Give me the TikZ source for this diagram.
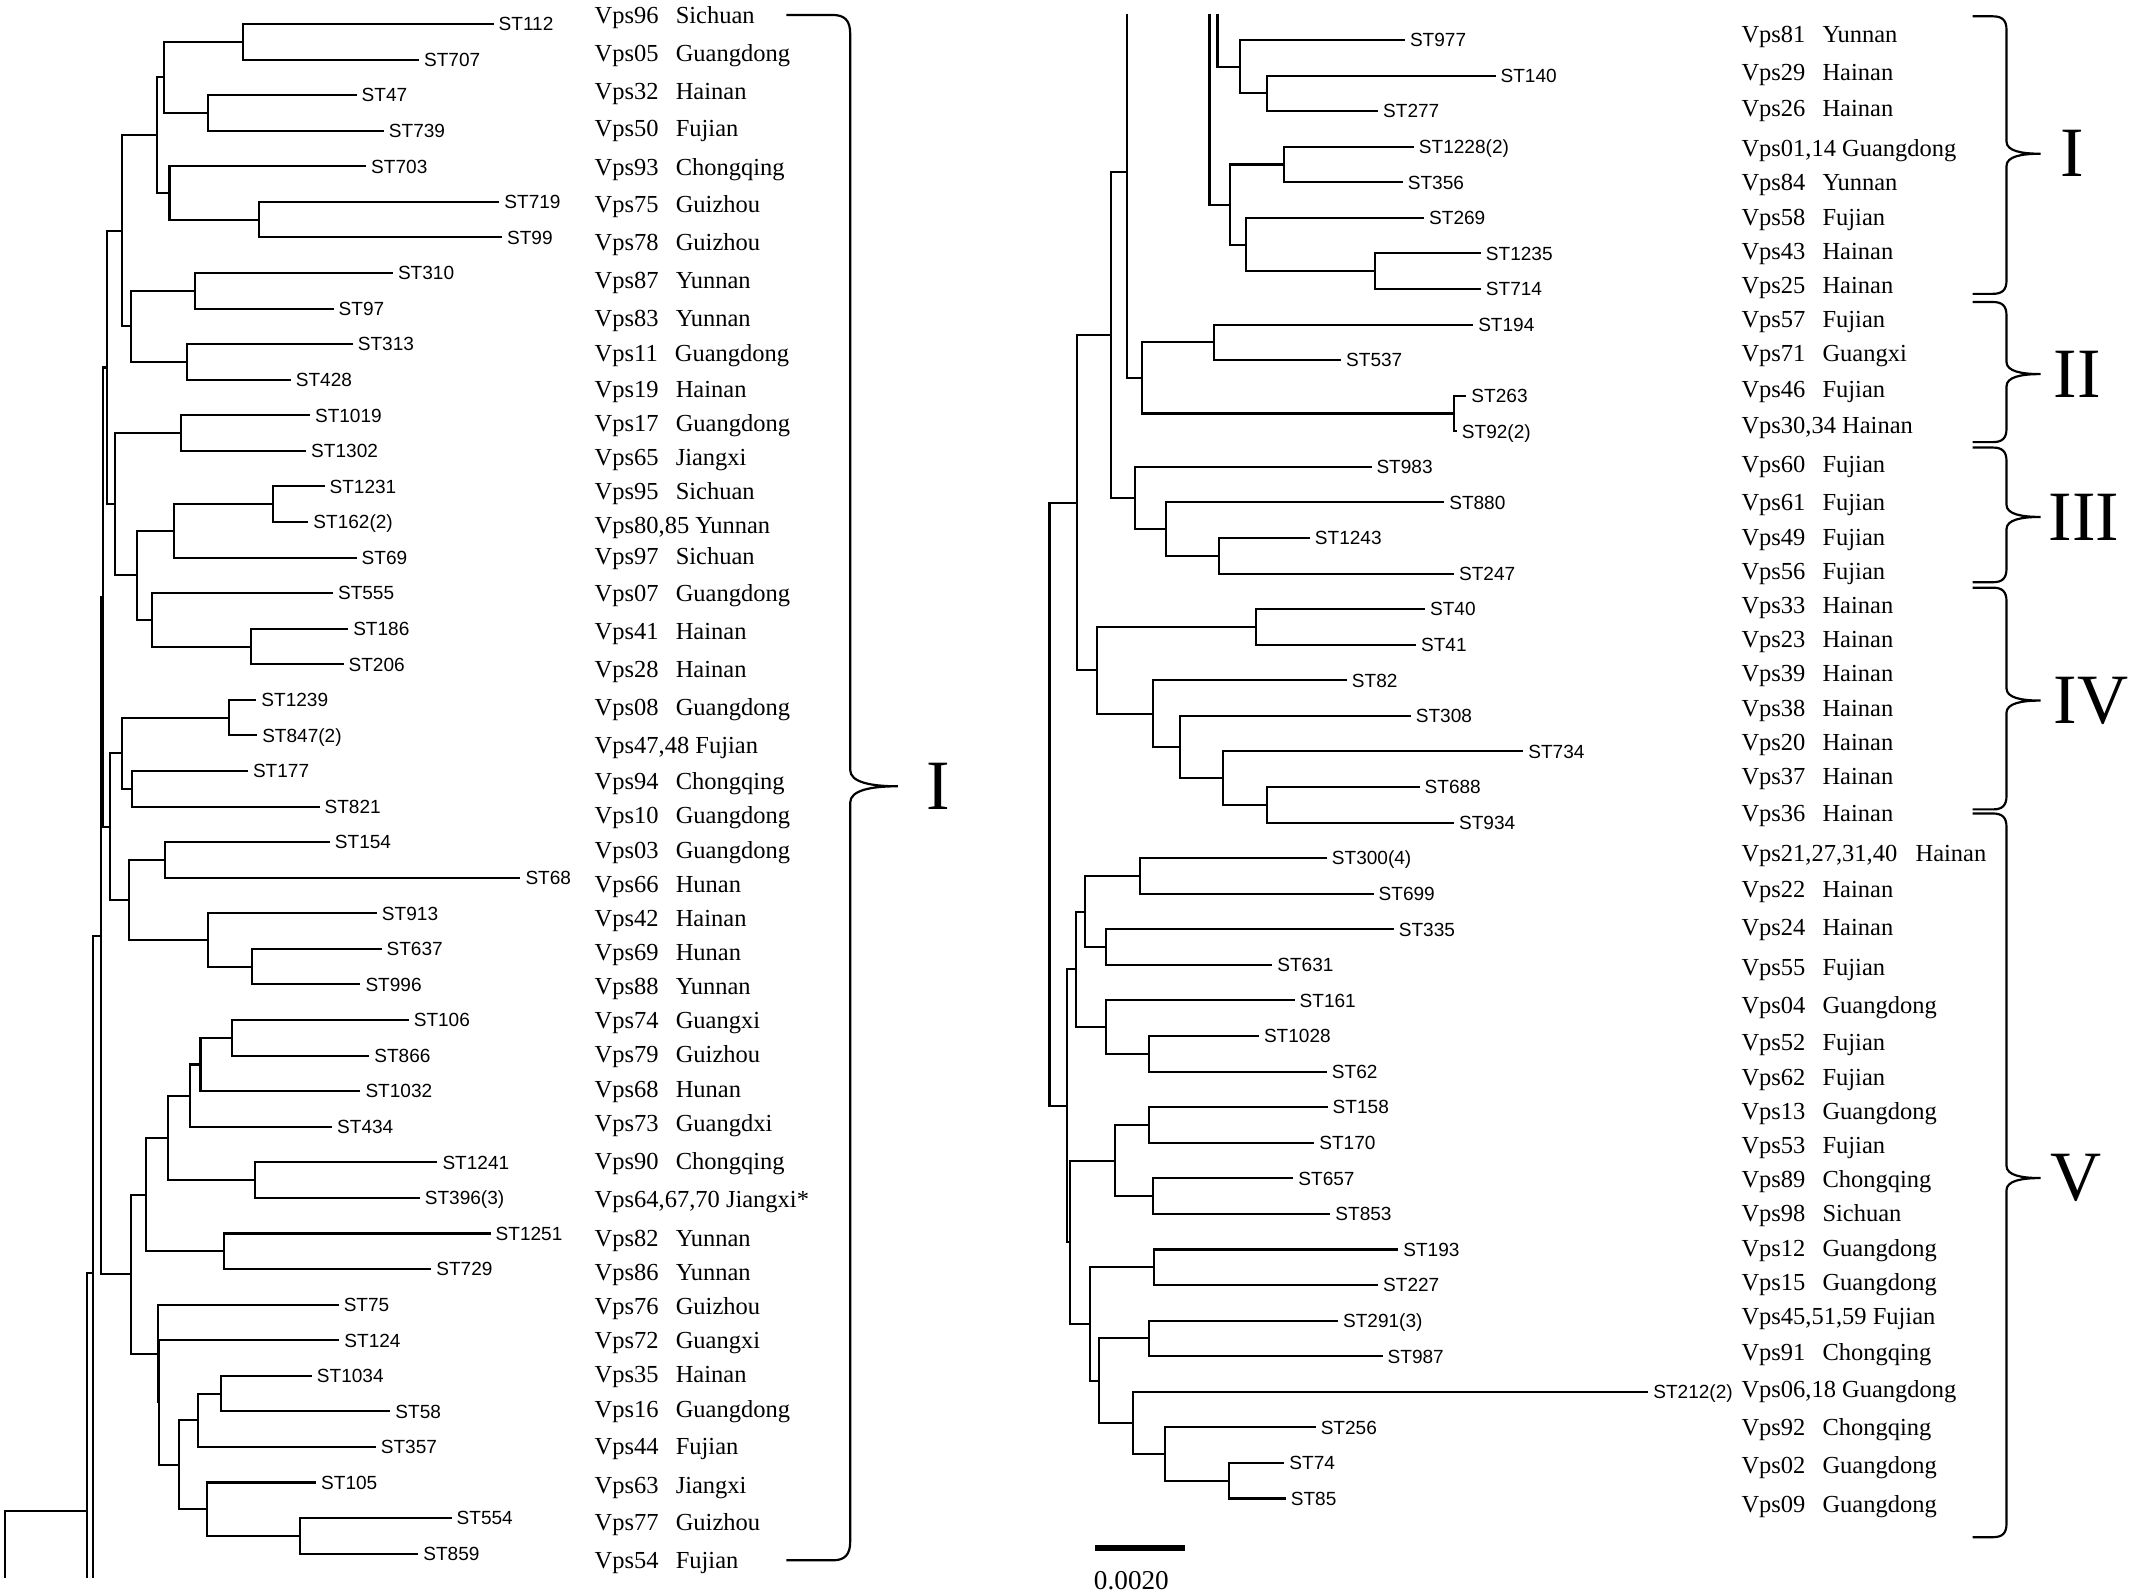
\documentclass[tikz,border=0pt]{standalone}
\usepackage{fontspec}
\setmainfont{Liberation Serif}
\newfontfamily\stfam{Liberation Sans}
\newcommand\g{\hspace{0.7em}}
\newcommand\LN[3]{\coordinate (#1) at (#2,{17.64+26.15*(#3)});}
\newcommand\RN[3]{\coordinate (#1) at (#2,{29.4+26.15*(#3)});}
\newcommand\LL[5]{\coordinate (#1) at (#2,{17.64+26.15*(#3)}); \draw[br] (#4) |- (#1); \node[stl] (t#1) at (#1) {#5};}
\newcommand\RL[5]{\coordinate (#1) at (#2,{29.4+26.15*(#3)}); \draw[br] (#4) |- (#1); \node[stl] (t#1) at (#1) {#5};}
\newcommand\VL[4]{\node[vps] (#1) at (#2,#3) {#4};}
\newcommand\RB[3]{\draw[brc] (1450,#1) -- (1465,#1) .. controls (1472,#1) and (1475,#1+3) .. (1475,#1+10) -- (1475,#3-9) .. controls (1475,#3-2) and (1486,#3) .. (1500,#3) .. controls (1486,#3) and (1475,#3+2) .. (1475,#3+9) -- (1475,#2-10) .. controls (1475,#2-3) and (1472,#2) .. (1465,#2) -- (1450,#2);}
\begin{document}
\begin{tikzpicture}[x=1pt,y=-1pt,
  br/.style={line width=1.5pt,line join=miter},
  brc/.style={line width=1.6pt},
  stl/.style={anchor=west,inner sep=0pt,xshift=3.5pt,font=\stfam\fontsize{14}{16}\selectfont,text height=10pt,text depth=0pt},
  vps/.style={anchor=west,inner sep=0pt,font=\fontsize{18}{21}\selectfont,text height=12pt,text depth=0pt},
  roman/.style={inner sep=0pt,font=\fontsize{52}{56}\selectfont}]
\useasboundingbox (0,0) rectangle (1568,1173);
% ---------------- left tree internal nodes
\LN{n112}{178.9}{0.5}
\LN{n47}{152.8}{2.5}
\LN{A}{120.4}{1.5}
\LN{n719}{190.2}{5.5}
\LN{n703}{124.6}{4.75}
\LN{B}{115.6}{3.125}
\LN{n310}{143.2}{7.5}
\LN{n313}{137.6}{9.5}
\LN{C}{96.5}{8.5}
\LN{D}{89.5}{5.8125}
\LN{n1019}{133.1}{11.5}
\LN{n1231}{200.9}{13.5}
\LN{n69}{128.0}{14.25}
\LN{n186}{184.3}{17.5}
\LN{n555}{111.7}{16.75}
\LN{F}{100.4}{15.5}
\LN{G}{84.4}{13.5}
\LN{E}{78.8}{9.65625}
\LN{n1239}{168.0}{19.5}
\LN{n177}{97.3}{21.5}
\LN{H}{89.5}{20.5}
\LN{n154}{121.3}{23.5}
\LN{n637}{185.4}{26.5}
\LN{n913}{152.8}{25.75}
\LN{J}{95.1}{24.625}
\LN{I}{81.0}{22.5625}
\LN{L1}{75.6}{16.109375}
\LN{n106}{170.2}{28.5}
\LN{n1032}{147.4}{29.25}
\LN{n434}{139.8}{30.125}
\LN{n1241}{187.6}{32.5}
\LN{N1}{123.2}{31.3125}
\LN{n1251}{164.9}{34.5}
\LN{N2}{107.2}{32.90625}
\LN{n1034}{162.6}{38.5}
\LN{P4}{145.2}{39.25}
\LN{n554}{220.3}{42.5}
\LN{P5}{151.9}{41.75}
\LN{P3}{131.9}{40.5}
\LN{P2}{116.7}{38.75}
\LN{P1}{115.9}{37.375}
\LN{M}{96.5}{35.140625}
\LN{L2}{74.2}{25.625}
\coordinate (R1) at (68.6,935.6);
\coordinate (R1cut) at (68.6,1160);
\coordinate (R2) at (63.7,1110.8);
\coordinate (R2cut) at (63.7,1160);
\coordinate (root0) at (3.7,1160);
% left tree internal edges
\foreach \p/\c in {A/n112,A/n47,B/A,B/n703,n703/n719,C/n310,C/n313,D/B,D/C,
  n69/n1231,n555/n186,F/n69,F/n555,G/n1019,G/F,E/D,E/G,
  H/n1239,H/n177,n913/n637,J/n154,J/n913,I/H,I/J,L1/E,L1/I,
  n1032/n106,n434/n1032,N1/n434,N1/n1241,N2/N1,N2/n1251,
  P4/n1034,P5/n554,P3/P4,P3/P5,P2/P3,P1/P2,M/N2,M/P1,L2/L1,L2/M,R1/L2,R2/R1,root0/R2}
  {\draw[br] (\p) |- (\c);}
\draw[br] (R1) -- (R1cut);
\draw[br] (R2) -- (R2cut);
% left leaves
\LL{l0}{362.9}{0}{n112}{ST112}
\LL{l1}{308.1}{1}{n112}{ST707}
\LL{l2}{262.2}{2}{n47}{ST47}
\LL{l3}{282.2}{3}{n47}{ST739}
\LL{l4}{269.2}{4}{n703}{ST703}
\LL{l5}{367.1}{5}{n719}{ST719}
\LL{l6}{369.1}{6}{n719}{ST99}
\LL{l7}{288.9}{7}{n310}{ST310}
\LL{l8}{245.3}{8}{n310}{ST97}
\LL{l9}{259.4}{9}{n313}{ST313}
\LL{l10}{213.8}{10}{n313}{ST428}
\LL{l11}{227.9}{11}{n1019}{ST1019}
\LL{l12}{225.1}{12}{n1019}{ST1302}
\LL{l13}{238.6}{13}{n1231}{ST1231}
\LL{l14}{226.7}{14}{n1231}{ST162(2)}
\LL{l15}{262.2}{15}{n69}{ST69}
\LL{l16}{244.8}{16}{n555}{ST555}
\LL{l17}{256.0}{17}{n186}{ST186}
\LL{l18}{252.6}{18}{n186}{ST206}
\LL{l19}{188.5}{19}{n1239}{ST1239}
\LL{l20}{189.1}{20}{n1239}{ST847(2)}
\LL{l21}{182.3}{21}{n177}{ST177}
\LL{l22}{234.9}{22}{n177}{ST821}
\LL{l23}{242.5}{23}{n154}{ST154}
\LL{l24}{382.6}{24}{n154}{ST68}
\LL{l25}{277.1}{25}{n913}{ST913}
\LL{l26}{280.5}{26}{n637}{ST637}
\LL{l27}{265.0}{27}{n637}{ST996}
\LL{l28}{300.5}{28}{n106}{ST106}
\LL{l29}{271.5}{29}{n106}{ST866}
\LL{l30}{265.0}{30}{n1032}{ST1032}
\LL{l31}{244.2}{31}{n434}{ST434}
\LL{l32}{321.6}{32}{n1241}{ST1241}
\LL{l33}{308.6}{33}{n1241}{ST396(3)}
\LL{l34}{360.7}{34}{n1251}{ST1251}
\LL{l35}{317.1}{35}{n1251}{ST729}
\LL{l36}{249.0}{36}{P1}{ST75}
\LL{l37}{249.5}{37}{P2}{ST124}
\LL{l38}{229.3}{38}{n1034}{ST1034}
\LL{l39}{287.0}{39}{n1034}{ST58}
\LL{l40}{276.3}{40}{P4}{ST357}
\LL{l41}{232.4}{41}{P5}{ST105}
\LL{l42}{332.0}{42}{n554}{ST554}
\LL{l43}{307.5}{43}{n554}{ST859}
% ---------------- right tree internal nodes
\RN{n140}{931.1}{1.5}
\RN{n977}{911.4}{0.75}
\RN{n1228}{944.2}{3.5}
\RN{n1235}{1010.5}{6.5}
\RN{n269}{915.6}{5.75}
\RN{nS}{904.5}{4.625}
\RN{n194}{892.7}{8.5}
\RN{n263}{1068.9}{10.5}
\RN{T}{839.8}{9.5}
\coordinate (n828) at (828.7,126.7);
\coordinate (cut828) at (828.7,10);
\coordinate (cut889) at (889.1,10);
\coordinate (cut895) at (895.0,10);
\RN{n1243}{896.0}{14.5}
\RN{n880}{857.2}{13.75}
\RN{V}{834.3}{12.875}
\coordinate (U) at (816.5,246.4);
\RN{n40}{923.2}{16.5}
\RN{n688}{931.1}{21.5}
\RN{n734}{899.2}{20.75}
\RN{n308}{867.4}{19.875}
\RN{n82}{847.4}{18.9375}
\RN{X}{806.7}{17.71875}
\coordinate (W) at (791.6,369.6);
\RN{n300}{838.1}{23.5}
\RN{n335}{813.1}{25.5}
\RN{n300g}{797.9}{24.5}
\RN{n1028}{844.9}{28.5}
\RN{n161}{813.1}{27.75}
\RN{n138}{791.0}{26.125}
\RN{n158}{844.9}{30.5}
\RN{n657}{847.4}{32.5}
\RN{n158g}{819.7}{31.5}
\RN{n193}{848.4}{34.5}
\RN{n291}{844.9}{36.5}
\RN{n74}{903.7}{40.5}
\RN{AD}{856.4}{39.75}
\RN{AC}{833.2}{38.875}
\RN{AB}{807.9}{37.6875}
\RN{AA}{801.3}{36.09375}
\RN{Z}{786.9}{33.796875}
\RN{Y}{784.2}{29.9609375}
\coordinate (Rr) at (771.5,591.3);
\foreach \p/\c in {n977/n140,n269/n1235,nS/n1228,nS/n269,T/n194,T/n263,cut828/T,cut889/nS,cut895/n977,
  n880/n1243,V/n880,U/n828,U/V,n734/n688,n308/n734,n82/n308,X/n40,X/n82,W/U,W/X,
  n300g/n300,n300g/n335,n161/n1028,n138/n300g,n138/n161,n158g/n158,n158g/n657,
  AD/n74,AC/AD,AB/n291,AB/AC,AA/n193,AA/AB,Z/n158g,Z/AA,Y/n138,Y/Z,Rr/W,Rr/Y}
  {\draw[br] (\p) |- (\c);}
% right leaves
\RL{r0}{1032.8}{0}{n977}{ST977}
\RL{r1}{1099.4}{1}{n140}{ST140}
\RL{r2}{1013.1}{2}{n140}{ST277}
\RL{r3}{1039.4}{3}{n1228}{ST1228(2)}
\RL{r4}{1031.2}{4}{n1228}{ST356}
\RL{r5}{1046.9}{5}{n269}{ST269}
\RL{r6}{1088.6}{6}{n1235}{ST1235}
\RL{r7}{1088.6}{7}{n1235}{ST714}
\RL{r8}{1083.0}{8}{n194}{ST194}
\RL{r9}{985.9}{9}{n194}{ST537}
\RL{r10}{1078.0}{10}{n263}{ST263}
\RL{r11}{1071.0}{11}{n263}{ST92(2)}
\RL{r12}{1008.2}{12}{V}{ST983}
\RL{r13}{1061.7}{13}{n880}{ST880}
\RL{r14}{962.9}{14}{n1243}{ST1243}
\RL{r15}{1068.9}{15}{n1243}{ST247}
\RL{r16}{1047.6}{16}{n40}{ST40}
\RL{r17}{1041.0}{17}{n40}{ST41}
\RL{r18}{990.1}{18}{n82}{ST82}
\RL{r19}{1037.1}{19}{n308}{ST308}
\RL{r20}{1119.8}{20}{n734}{ST734}
\RL{r21}{1043.6}{21}{n688}{ST688}
\RL{r22}{1068.9}{22}{n688}{ST934}
\RL{r23}{975.4}{23}{n300}{ST300(4)}
\RL{r24}{1009.8}{24}{n300}{ST699}
\RL{r25}{1024.6}{25}{n335}{ST335}
\RL{r26}{935.3}{26}{n335}{ST631}
\RL{r27}{951.7}{27}{n161}{ST161}
\RL{r28}{925.5}{28}{n1028}{ST1028}
\RL{r29}{975.4}{29}{n1028}{ST62}
\RL{r30}{976.0}{30}{n158}{ST158}
\RL{r31}{966.2}{31}{n158}{ST170}
\RL{r32}{950.8}{32}{n657}{ST657}
\RL{r33}{978.0}{33}{n657}{ST853}
\RL{r34}{1027.9}{34}{n193}{ST193}
\RL{r35}{1013.1}{35}{n193}{ST227}
\RL{r36}{983.6}{36}{n291}{ST291(3)}
\RL{r37}{1016.4}{37}{n291}{ST987}
\RL{r38}{1211.7}{38}{AC}{ST212(2)}
\RL{r39}{967.2}{39}{AD}{ST256}
\RL{r40}{944.2}{40}{n74}{ST74}
\RL{r41}{945.2}{41}{n74}{ST85}
% ---------------- left strain labels
\VL{v0}{437}{11}{Vps96\g Sichuan}
\VL{v1}{437}{39}{Vps05\g Guangdong}
\VL{v2}{437}{67}{Vps32\g Hainan}
\VL{v3}{437}{94}{Vps50\g Fujian}
\VL{v4}{437}{123}{Vps93\g Chongqing}
\VL{v5}{437}{150}{Vps75\g Guizhou}
\VL{v6}{437}{178}{Vps78\g Guizhou}
\VL{v7}{437}{206}{Vps87\g Yunnan}
\VL{v8}{437}{234}{Vps83\g Yunnan}
\VL{v9}{437}{260}{Vps11\g Guangdong}
\VL{v10}{437}{286}{Vps19\g Hainan}
\VL{v11}{437}{311}{Vps17\g Guangdong}
\VL{v12}{437}{336}{Vps65\g Jiangxi}
\VL{v13}{437}{361}{Vps95\g Sichuan}
\VL{v14}{437}{386}{Vps80,85 Yunnan}
\VL{v15}{437}{409}{Vps97\g Sichuan}
\VL{v16}{437}{436}{Vps07\g Guangdong}
\VL{v17}{437}{464}{Vps41\g Hainan}
\VL{v18}{437}{492}{Vps28\g Hainan}
\VL{v19}{437}{520}{Vps08\g Guangdong}
\VL{v20}{437}{548}{Vps47,48 Fujian}
\VL{v21}{437}{574}{Vps94\g Chongqing}
\VL{v22}{437}{599}{Vps10\g Guangdong}
\VL{v23}{437}{625}{Vps03\g Guangdong}
\VL{v24}{437}{650}{Vps66\g Hunan}
\VL{v25}{437}{675}{Vps42\g Hainan}
\VL{v26}{437}{700}{Vps69\g Hunan}
\VL{v27}{437}{725}{Vps88\g Yunnan}
\VL{v28}{437}{750}{Vps74\g Guangxi}
\VL{v29}{437}{775}{Vps79\g Guizhou}
\VL{v30}{437}{801}{Vps68\g Hunan}
\VL{v31}{437}{826}{Vps73\g Guangdxi}
\VL{v32}{437}{854}{Vps90\g Chongqing}
\VL{v33}{437}{882}{Vps64,67,70 Jiangxi*}
\VL{v34}{437}{910}{Vps82\g Yunnan}
\VL{v35}{437}{935}{Vps86\g Yunnan}
\VL{v36}{437}{960}{Vps76\g Guizhou}
\VL{v37}{437}{985}{Vps72\g Guangxi}
\VL{v38}{437}{1010}{Vps35\g Hainan}
\VL{v39}{437}{1036}{Vps16\g Guangdong}
\VL{v40}{437}{1063}{Vps44\g Fujian}
\VL{v41}{437}{1092}{Vps63\g Jiangxi}
\VL{v42}{437}{1119}{Vps77\g Guizhou}
\VL{v43}{437}{1147}{Vps54\g Fujian}
% ---------------- right strain labels
\VL{w0}{1280}{25}{Vps81\g Yunnan}
\VL{w1}{1280}{53}{Vps29\g Hainan}
\VL{w2}{1280}{80}{Vps26\g Hainan}
\VL{w3}{1280}{109}{Vps01,14 Guangdong}
\VL{w4}{1280}{134}{Vps84\g Yunnan}
\VL{w5}{1280}{160}{Vps58\g Fujian}
\VL{w6}{1280}{185}{Vps43\g Hainan}
\VL{w7}{1280}{210}{Vps25\g Hainan}
\VL{w8}{1280}{235}{Vps57\g Fujian}
\VL{w9}{1280}{260}{Vps71\g Guangxi}
\VL{w10}{1280}{286}{Vps46\g Fujian}
\VL{w11}{1280}{313}{Vps30,34 Hainan}
\VL{w12}{1280}{341}{Vps60\g Fujian}
\VL{w13}{1280}{369}{Vps61\g Fujian}
\VL{w14}{1280}{395}{Vps49\g Fujian}
\VL{w15}{1280}{420}{Vps56\g Fujian}
\VL{w16}{1280}{445}{Vps33\g Hainan}
\VL{w17}{1280}{470}{Vps23\g Hainan}
\VL{w18}{1280}{495}{Vps39\g Hainan}
\VL{w19}{1280}{521}{Vps38\g Hainan}
\VL{w20}{1280}{546}{Vps20\g Hainan}
\VL{w21}{1280}{571}{Vps37\g Hainan}
\VL{w22}{1280}{598}{Vps36\g Hainan}
\VL{w23}{1280}{627}{Vps21,27,31,40\hspace{0.5em} Hainan}
\VL{w24}{1280}{654}{Vps22\g Hainan}
\VL{w25}{1280}{682}{Vps24\g Hainan}
\VL{w26}{1280}{711}{Vps55\g Fujian}
\VL{w27}{1280}{739}{Vps04\g Guangdong}
\VL{w28}{1280}{766}{Vps52\g Fujian}
\VL{w29}{1280}{792}{Vps62\g Fujian}
\VL{w30}{1280}{817}{Vps13\g Guangdong}
\VL{w31}{1280}{842}{Vps53\g Fujian}
\VL{w32}{1280}{867}{Vps89\g Chongqing}
\VL{w33}{1280}{892}{Vps98\g Sichuan}
\VL{w34}{1280}{918}{Vps12\g Guangdong}
\VL{w35}{1280}{943}{Vps15\g Guangdong}
\VL{w36}{1280}{968}{Vps45,51,59 Fujian}
\VL{w37}{1280}{994}{Vps91\g Chongqing}
\VL{w38}{1280}{1021}{Vps06,18 Guangdong}
\VL{w39}{1280}{1049}{Vps92\g Chongqing}
\VL{w40}{1280}{1077}{Vps02\g Guangdong}
\VL{w41}{1280}{1106}{Vps09\g Guangdong}
% ---------------- braces
\draw[brc] (578,11) -- (612,11) .. controls (621,11) and (625,15) .. (625,25) -- (625,566) .. controls (625,575) and (640,578) .. (660,578) .. controls (640,578) and (625,581) .. (625,590) -- (625,1133) .. controls (625,1143) and (621,1147) .. (612,1147) -- (578,1147);
\node[roman] (gL) at (690,578) {I};
\RB{12}{216}{113}
\RB{222}{325}{275}
\RB{329}{428}{380}
\RB{432}{595}{515}
\RB{598}{1130}{866}
\node[roman] (g1) at (1523,113) {I};
\node[roman] (g2) at (1527,275) {II};
\node[roman] (g3) at (1532,380) {III};
\node[roman] (g4) at (1537,515) {IV};
\node[roman] (g5) at (1526,866) {V};
% ---------------- scale bar
\coordinate (sb1) at (805,1138);
\coordinate (sb2) at (871,1138);
\draw[line width=4pt] (sb1) -- (sb2);
\node[anchor=west,inner sep=0pt,font=\fontsize{20}{24}\selectfont] (sbl) at (804,1162) {0.0020};
\end{tikzpicture}
\end{document}
